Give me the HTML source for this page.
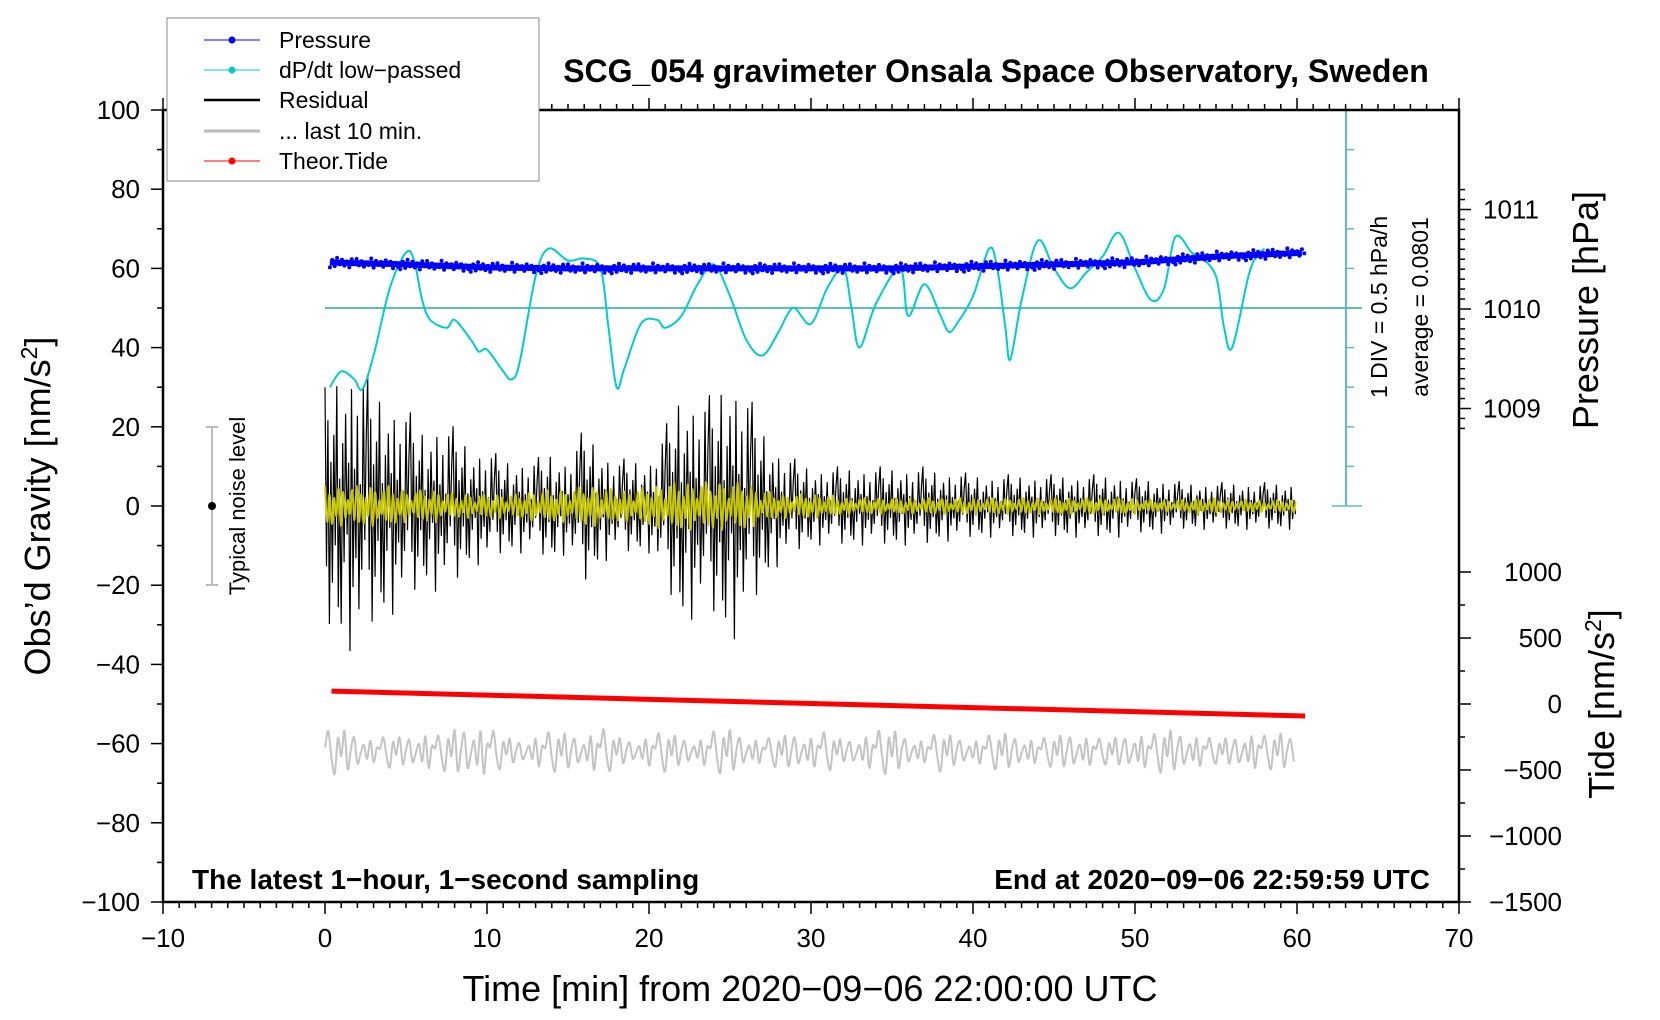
<!DOCTYPE html>
<html><head><meta charset="utf-8"><style>
html,body{margin:0;padding:0;background:#fff;}
svg{display:block;font-family:"Liberation Sans",sans-serif;}
</style></head><body>
<svg id="chart" width="1660" height="1020" viewBox="0 0 1660 1020" xmlns="http://www.w3.org/2000/svg">
<g id="plot"></g>
<g id="axes"></g>
<text x="996" y="82" font-size="32" font-weight="bold" text-anchor="middle">SCG_054 gravimeter Onsala Space Observatory, Sweden</text>
<text x="192" y="889" font-size="28" font-weight="bold">The latest 1−hour, 1−second sampling</text>
<text x="1430" y="889" font-size="28" font-weight="bold" text-anchor="end">End at 2020−09−06 22:59:59 UTC</text>
<text x="810" y="1001" font-size="36" text-anchor="middle">Time [min] from 2020−09−06 22:00:00 UTC</text>
<text transform="translate(50,506) rotate(-90)" font-size="36" text-anchor="middle">Obs’d Gravity [nm/s<tspan font-size="23" dy="-13">2</tspan><tspan dy="13">]</tspan></text>
<text transform="translate(1598,310) rotate(-90)" font-size="36" text-anchor="middle">Pressure [hPa]</text>
<text transform="translate(1614,704) rotate(-90)" font-size="36" text-anchor="middle">Tide [nm/s<tspan font-size="23" dy="-13">2</tspan><tspan dy="13">]</tspan></text>
<text transform="translate(1387,307) rotate(-90)" font-size="23" text-anchor="middle">1 DIV = 0.5 hPa/h</text>
<text transform="translate(1428,307) rotate(-90)" font-size="23" text-anchor="middle">average = 0.0801</text>
<g>
<line x1="212" y1="427" x2="212" y2="585" stroke="#bbb" stroke-width="2"/>
<line x1="206" y1="427" x2="218" y2="427" stroke="#bbb" stroke-width="2"/>
<line x1="206" y1="585" x2="218" y2="585" stroke="#bbb" stroke-width="2"/>
<circle cx="212" cy="506" r="4" fill="#000"/>
<text transform="translate(245,506) rotate(-90)" font-size="22" text-anchor="middle">Typical noise level</text>
</g>
<g id="legend">
<rect x="167" y="18" width="372" height="163" fill="#fff" stroke="#888" stroke-width="1"/>
<g><line x1="204" y1="40" x2="260" y2="40" stroke="#00f" stroke-width="1"/><circle cx="232" cy="40" r="3.5" fill="#00f"/><text x="279" y="48" font-size="23">Pressure</text></g>
<g><line x1="204" y1="70" x2="260" y2="70" stroke="#0cc" stroke-width="1"/><circle cx="232" cy="70" r="3.5" fill="#0cc"/><text x="279" y="78" font-size="23">dP/dt low−passed</text></g>
<g><line x1="204" y1="100" x2="260" y2="100" stroke="#000" stroke-width="2.5"/><text x="279" y="108" font-size="23">Residual</text></g>
<g><line x1="204" y1="131" x2="260" y2="131" stroke="#bbb" stroke-width="3"/><text x="279" y="139" font-size="23">... last 10 min.</text></g>
<g><line x1="204" y1="161" x2="260" y2="161" stroke="#f00" stroke-width="1"/><circle cx="232" cy="161" r="3.5" fill="#f00"/><text x="279" y="169" font-size="23">Theor.Tide</text></g>
</g>
</svg>
<script>
// ---- data ----
const xTicks = [-10,0,10,20,30,40,50,60,70];
const yTicks = [100,80,60,40,20,0,-20,-40,-60,-80,-100];
const pTicks = [1011,1010,1009];
const tideTicks = [1000,500,0,-500,-1000,-1500];
const pressureTimes = [0.3,5,10,15,20,25,30,35,40,45,50,55,60.5];
const pressureValues = [1010.468,1010.448,1010.418,1010.408,1010.408,1010.408,1010.408,1010.408,1010.428,1010.448,1010.468,1010.527,1010.567];
const dpdtTimes = [0.3,1,1.8,2.3,3,4,5,5.5,6,6.5,7.5,8,9,9.5,10,11,11.5,12,13,13.8,15,16,17,17.5,18,18.5,19.5,20.5,21,22,23,24,25,26,27,28,28.5,29,30,31,32,32.5,33,34,35.5,36,37,38,38.5,39,40,41,41.5,42,42.3,43,44,45,46,47,48,49,50,51,51.8,52.5,53.5,54,55,55.5,56,57,57.5,58];
const dpdtValues = [-0.92,-0.72,-0.82,-0.945,-0.52,0.33,0.78,0.68,0.18,-0.07,-0.17,-0.07,-0.32,-0.47,-0.445,-0.72,-0.82,-0.62,0.48,0.83,0.68,0.705,0.58,-0.17,-0.92,-0.67,-0.12,-0.07,-0.17,-0.02,0.38,0.63,0.23,-0.32,-0.52,-0.22,-0.02,0.08,-0.12,0.33,0.58,0.08,-0.42,0.13,0.58,-0.02,0.38,-0.02,-0.22,-0.12,0.23,0.83,0.58,-0.17,-0.57,0.18,0.93,0.58,0.33,0.53,0.73,1.03,0.58,0.18,0.33,0.98,0.78,0.73,0.48,-0.17,-0.42,0.48,0.73,0.83];
const dpdtAverage = 0.0801;
const residualEnvelope = [30,35,38,30,28,25,20,22,20,15,15,12,12,12,14,12,20,15,12,12,12,20,30,28,28,35,30,20,15,12,10,10,10,10,10,10,10,10,9,9,8,8,8,8,8,8,8,8,8,8,7,7,7,6,6,6,6,6,6,6,6];
const filteredEnvelope = [5,5,5,5,5,4,4,4,3,3,3,3,3,4,4,4,5,5,4,4,5,6,6,6,6,6,6,4,3,3,3,3,2,2,2,2,2,2,2,2,2,2,2,2,2,2,2,2,2,2,2,1.5,1.5,1.5,2,2,1.5,1.5,1.5,1.5,1.5];
const spikePattern = [1,-0.5,0.7,-0.95,0.35,-0.6,0.55,-0.3,0.9,-0.75,0.2,-0.85,0.45,-0.4,0.65,-0.2,0.3,-1,0.8,-0.55,0.25,-0.35,0.6,-0.7,0.15,-0.45,0.85,-0.25,0.5];
const filterPattern = [1,-0.8,0.6,-0.9,0.4,-0.5,0.9,-1,0.7,-0.6,0.3,-0.4,0.8,-0.7];
const last10Amplitude = [5,6,5,3,4,4,5,4,6,7,6,4,3,4,5,5,4,6,4,3,4,5,4,3,5,6,4,3,4,5,4,5,3,4,5,6,4,3,5,4,3,4,5,4,3,4,5,4,3,4,5,4,6,5,4,3,4,5,4,5,4];
const last10Pattern = [0.2,1,-0.3,-1,0.6,-0.2,0.9,-0.8,0.1,0.7,-0.6,-0.1,0.4,-0.5,0.8,-0.9,0.3];
const last10Mean = -62;
const tideTimes = [0.4,30,60.5];
const tideValues = [98,4,-91];

// ---- scales ----
const X0=163,X1=1459,Y0=110,Y1=902;
const xs=t=>X0+(t+10)/80*(X1-X0);
const ys=g=>Y1-(g+100)/200*(Y1-Y0);
const ps=p=>309-(p-1010)*99.5;
const ts=v=>704-v*0.132;
const ds=v=>ys(50+(v-dpdtAverage)/0.5*10);
const NS="http://www.w3.org/2000/svg";
const plot=document.getElementById('plot'), axes=document.getElementById('axes');
function mk(tag,attrs,parent){const e=document.createElementNS(NS,tag);for(const k in attrs)e.setAttribute(k,attrs[k]);parent.appendChild(e);return e;}
function interp(ts_,vs,t){if(t<=ts_[0])return vs[0];for(let i=1;i<ts_.length;i++){if(t<=ts_[i]){const f=(t-ts_[i-1])/(ts_[i]-ts_[i-1]);return vs[i-1]+f*(vs[i]-vs[i-1]);}}return vs[vs.length-1];}
function env(arr,t){const i=Math.min(Math.floor(t),arr.length-2);const f=t-i;return arr[i]*(1-f)+arr[i+1]*f;}
function smooth(pts){let d='M'+pts[0][0].toFixed(1)+','+pts[0][1].toFixed(1);
for(let i=0;i<pts.length-1;i++){const p0=pts[i-1]||pts[i],p1=pts[i],p2=pts[i+1],p3=pts[i+2]||p2;
const c1=[p1[0]+(p2[0]-p0[0])/6,p1[1]+(p2[1]-p0[1])/6],c2=[p2[0]-(p3[0]-p1[0])/6,p2[1]-(p3[1]-p1[1])/6];
d+=' C'+c1[0].toFixed(1)+','+c1[1].toFixed(1)+' '+c2[0].toFixed(1)+','+c2[1].toFixed(1)+' '+p2[0].toFixed(1)+','+p2[1].toFixed(1);}return d;}

// teal dP/dt axis
mk('line',{x1:1346,y1:Y0,x2:1346,y2:ys(0),stroke:'#5bbfb8','stroke-width':2},plot);
for(let g=0;g<=100;g+=10){const y=ys(g);const w=(g==0||g==100||g==50)?1362:1354;mk('line',{x1:(g==0||g==100)?1332:1346,y1:y,x2:w,y2:y,stroke:'#5bbfb8','stroke-width':1.5},plot);}
const avgLine=mk('line',{x1:xs(0),y1:ds(dpdtAverage),x2:1362,y2:ds(dpdtAverage),stroke:'#5bbfb8','stroke-width':2},plot);



// grey last 10 min
let gp=[];let k=0;
for(let t=0;t<=59.99;t+=0.2){const a=env(last10Amplitude,t);gp.push([xs(t),ys(last10Mean+a*last10Pattern[k%last10Pattern.length])]);k++;}
const grey=mk('path',{d:smooth(gp),fill:'none',stroke:'#c4c4c4','stroke-width':2},plot);



// residual black
let rp=[];k=0;
for(let t=0;t<=60;t+=1/11){const a=env(residualEnvelope,t);rp.push(xs(t).toFixed(1)+','+ys(a*spikePattern[k%spikePattern.length]).toFixed(1));k++;}
const res=mk('polyline',{points:rp.join(' '),fill:'none',stroke:'#000','stroke-width':1.2},plot);



// filtered yellow
let fp=[];k=0;
for(let t=0;t<=60;t+=0.14){const a=env(filteredEnvelope,t);fp.push([xs(t),ys(a*filterPattern[k%filterPattern.length])]);k++;}
const yel=mk('path',{d:smooth(fp),fill:'none',stroke:'#c8c800','stroke-width':2},plot);



// tide
let tp=tideTimes.map((t,i)=>xs(t).toFixed(1)+','+ts(tideValues[i]).toFixed(1));
const tide=mk('polyline',{points:tp.join(' '),fill:'none',stroke:'#f00','stroke-width':5},plot);



// dP/dt
let dp=dpdtTimes.map((t,i)=>[xs(t),ds(dpdtValues[i])]);
const dl=mk('path',{d:smooth(dp),fill:'none',stroke:'#0cc','stroke-width':2},plot);



// pressure band
let pp=[];
for(let t=0.3;t<=60.5;t+=0.25)pp.push(xs(t).toFixed(1)+','+ps(interp(pressureTimes,pressureValues,t)).toFixed(1));
const pl=mk('polyline',{points:pp.join(' '),fill:'none',stroke:'#00f','stroke-width':6},plot);


k=0;
for(let t=0.3;t<=60.5;t+=0.15){const y=ps(interp(pressureTimes,pressureValues,t))+spikePattern[k%spikePattern.length]*5;const c=mk('circle',{cx:xs(t).toFixed(1),cy:y.toFixed(1),r:2,fill:'#00f'},plot);


k++;}

// axes frame
mk('rect',{x:X0,y:Y0,width:X1-X0,height:Y1-Y0,fill:'none',stroke:'#000','stroke-width':2.5},axes);
for(let t=-10;t<=70;t++){const x=xs(t);const major=t%10==0;mk('line',{x1:x,y1:Y1,x2:x,y2:Y1+(major?12:6),stroke:'#000','stroke-width':1.5},axes);mk('line',{x1:x,y1:Y0,x2:x,y2:Y0-(major?12:6),stroke:'#000','stroke-width':1.5},axes);}
xTicks.forEach(t=>{const e=mk('text',{x:xs(t),y:947,'font-size':26,'text-anchor':'middle'},axes);e.textContent=t<0?'−'+(-t):t;

});
for(let g=-100;g<=100;g+=10){const y=ys(g);mk('line',{x1:X0,y1:y,x2:X0-(g%20==0?12:6),y2:y,stroke:'#000','stroke-width':1.5},axes);}
yTicks.forEach(g=>{const e=mk('text',{x:140,y:ys(g)+9,'font-size':26,'text-anchor':'end'},axes);e.textContent=g<0?'−'+(-g):g;

});
for(let p=1008.8;p<=1011.3;p+=0.1){const y=ps(p);if(y<Y0||y>ys(0)+2)continue;const major=Math.abs(p-Math.round(p))<0.01;mk('line',{x1:X1,y1:y,x2:X1+(major?12:6),y2:y,stroke:'#000','stroke-width':1.5},axes);}
pTicks.forEach(p=>{const e=mk('text',{x:1483,y:ps(p)+9,'font-size':26},axes);e.textContent=p;

});
for(let v=-1500;v<=1000;v+=250){const y=ts(v);mk('line',{x1:X1,y1:y,x2:X1+(v%500==0?12:6),y2:y,stroke:'#000','stroke-width':1.5},axes);}
tideTicks.forEach(v=>{const e=mk('text',{x:1562,y:ts(v)+9,'font-size':26,'text-anchor':'end'},axes);e.textContent=v<0?'−'+(-v):v;

});
const svg=document.getElementById('chart');svg.appendChild(document.getElementById('legend'));
</script>
</body></html>
